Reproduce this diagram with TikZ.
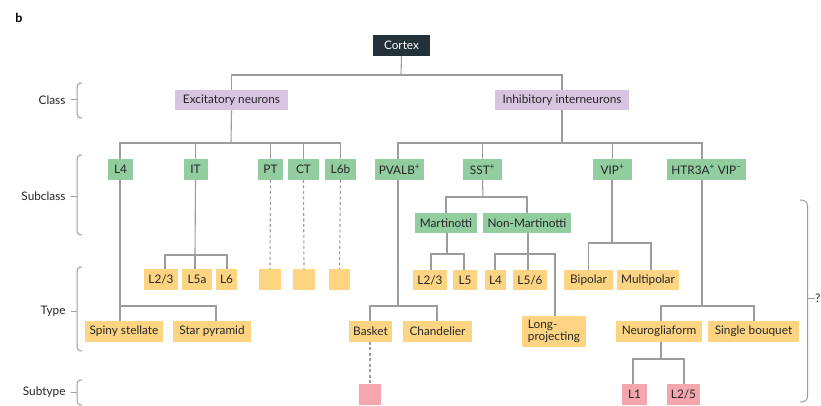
\documentclass[tikz,border=0pt]{standalone}
\usepackage{fontspec}
\setmainfont{Lato}
\definecolor{cdark}{HTML}{23313B}
\definecolor{cpurple}{HTML}{D8C3E1}
\definecolor{cgreen}{HTML}{91CD9F}
\definecolor{cyellow}{HTML}{FDD482}
\definecolor{cpink}{HTML}{F3A7AC}
\definecolor{cline}{HTML}{9C9C9C}
\definecolor{ctext}{HTML}{262626}
\tikzset{
  lbl/.style={font=\fontsize{11.8}{13}\selectfont, text=ctext},
  box/.style={rectangle, minimum height=20.5, inner xsep=4, inner ysep=0, font=\fontsize{11.8}{13}\selectfont, text=ctext},
  darkbox/.style={box, fill=cdark, text=white},
  purplebox/.style={box, fill=cpurple},
  greenbox/.style={box, fill=cgreen},
  yellowbox/.style={box, fill=cyellow},
  pinkbox/.style={box, fill=cpink},
  conn/.style={draw=cline, line width=1.1},
  dconn/.style={draw=cline, line width=1.1, dash pattern=on 3 off 2.5},
  brace/.style={draw=cline, line width=1}
}
\begin{document}
\begin{tikzpicture}[x=1pt,y=-1pt]
\useasboundingbox[fill=white] (0,0) rectangle (821,406);
\node[font=\fontsize{12.5}{14}\selectfont\bfseries, text=black] (b) at (19,18) {b};

% Level 0 and class
\node[darkbox, minimum width=57, minimum height=21] (cortex) at (401.5,45.5) {Cortex};
\node[purplebox, minimum width=113] (exc) at (231.5,100) {Excitatory neurons};
\node[purplebox, minimum width=134] (inh) at (562,100) {Inhibitory interneurons};

% Subclass
\node[greenbox, minimum width=25] (L4) at (120.5,169.5) {L4};
\node[greenbox, minimum width=24] (IT) at (195.5,169.5) {IT};
\node[greenbox, minimum width=25] (PT) at (270.5,169.5) {PT};
\node[greenbox, minimum width=31] (CT) at (303.5,169.5) {CT};
\node[greenbox, minimum width=31] (L6b) at (340.5,169.5) {L6b};
\node[greenbox, minimum width=41] (PV) at (399.5,169.5) {PVALB\textsuperscript{+}};
\node[greenbox, minimum width=39] (SST) at (482.5,169.5) {SST\textsuperscript{+}};
\node[greenbox, minimum width=39] (VIP) at (612.5,169.5) {VIP\textsuperscript{+}};
\node[greenbox, minimum width=79] (HTR) at (706.5,169.5) {HTR3A\textsuperscript{+} VIP\textsuperscript{--}};
\node[greenbox, minimum width=62] (mart) at (446,223) {Martinotti};
\node[greenbox, minimum width=88] (nmart) at (527,223) {Non-Martinotti};

% Type row 1
\node[yellowbox, minimum width=34] (tL23) at (161,279.5) {L2/3};
\node[yellowbox, minimum width=30] (tL5a) at (197,279.5) {L5a};
\node[yellowbox, minimum width=21] (tL6) at (226.5,279.5) {L6};
\node[yellowbox, minimum width=22] (ePT) at (270,279.5) {};
\node[yellowbox, minimum width=22] (eCT) at (304,279.5) {};
\node[yellowbox, minimum width=21] (eL6b) at (339.5,279.5) {};
\node[yellowbox, minimum width=32] (sL23) at (430,280) {L2/3};
\node[yellowbox, minimum width=24] (sL5) at (465,280) {L5};
\node[yellowbox, minimum width=21] (sL4) at (495.5,280) {L4};
\node[yellowbox, minimum width=34] (sL56) at (530,280) {L5/6};
\node[yellowbox, minimum width=49] (bip) at (588.5,280) {Bipolar};
\node[yellowbox, minimum width=58] (mult) at (648,280) {Multipolar};

% Type row 2
\node[yellowbox, minimum width=78] (spiny) at (124,331.5) {Spiny stellate};
\node[yellowbox, minimum width=78] (star) at (212,331.5) {Star pyramid};
\node[yellowbox, minimum width=43] (basket) at (370.5,331.5) {Basket};
\node[yellowbox, minimum width=69] (chand) at (437.5,331.5) {Chandelier};
\node[yellowbox, minimum width=64, minimum height=31, align=left, font=\fontsize{11.8}{12}\selectfont] (long) at (554,331.5) {Long-\\projecting};
\node[yellowbox, minimum width=86] (neuro) at (659,331.5) {Neurogliaform};
\node[yellowbox, minimum width=91] (single) at (753.5,331.5) {Single bouquet};

% Subtype
\node[pinkbox, minimum width=22, minimum height=21] (pbask) at (370,394.5) {};
\node[pinkbox, minimum width=25, minimum height=21] (sL1) at (634.5,394.5) {L1};
\node[pinkbox, minimum width=31, minimum height=21] (sL25) at (683.5,394.5) {L2/5};

% Junction coordinates
\coordinate (j0) at (401,75);
\coordinate (jexc) at (231,143);
\coordinate (jinh) at (562,143);
\coordinate (jit) at (195,255);
\coordinate (jl4) at (120,306);
\coordinate (jsst) at (483,197);
\coordinate (jmart) at (447,254);
\coordinate (jnm) at (528,254);
\coordinate (jvip) at (612,243);
\coordinate (jpv) at (398,306);
\coordinate (jhtr) at (702,306);
\coordinate (jneu) at (661,359);

% Connectors
\draw[conn] (cortex.south) -- (j0);
\draw[conn] (exc.north) -- (exc.north |- j0) -- (inh.north |- j0) -- (inh.north);

\draw[conn] (exc.south) -- (jexc);
\draw[conn] (L4.north -| 120,0) -- (120,0 |- jexc) -- (L6b.north |- jexc) -- (L6b.north);
\draw[conn] (IT.north) -- (IT.north |- jexc);
\draw[conn] (PT.north) -- (PT.north |- jexc);
\draw[conn] (CT.north) -- (CT.north |- jexc);

\draw[conn] (inh.south) -- (jinh);
\draw[conn] (PV.north -| 398,0) -- (398,0 |- jinh) -- (702,0 |- jinh) -- (HTR.north -| 702,0);
\draw[conn] (SST.north) -- (SST.north |- jinh);
\draw[conn] (VIP.north) -- (VIP.north |- jinh);

% IT types
\draw[conn] (IT.south) -- (jit);
\draw[conn] (tL23.north -| 165,0) -- (165,0 |- jit) -- (227,0 |- jit) -- (tL6.north -| 227,0);
\draw[conn] (tL5a.north -| 195,0) -- (jit);

% dashed
\draw[dconn] (PT.south) -- (ePT.north);
\draw[dconn] (CT.south) -- (eCT.north);
\draw[dconn] (L6b.south) -- (eL6b.north);

% L4 types
\draw[conn] (L4.south -| 120,0) -- (jl4);
\draw[conn] (spiny.north -| jl4) -- (jl4) -- (216,0 |- jl4) -- (star.north -| 216,0);

% SST
\draw[conn] (SST.south) -- (jsst);
\draw[conn] (mart.north) -- (mart.north |- jsst) -- (nmart.north |- jsst) -- (nmart.north);
\draw[conn] (mart.south -| jmart) -- (jmart);
\draw[conn] (sL23.north -| 431,0) -- (431,0 |- jmart) -- (464,0 |- jmart) -- (sL5.north -| 464,0);
\draw[conn] (nmart.south -| jnm) -- (jnm);
\draw[conn] (sL4.north -| 495,0) -- (495,0 |- jnm) -- (555,0 |- jnm) -- (long.north -| 555,0);
\draw[conn] (sL56.north -| jnm) -- (jnm);

% VIP
\draw[conn] (VIP.south -| jvip) -- (jvip);
\draw[conn] (bip.north) -- (bip.north |- jvip) -- (651,0 |- jvip) -- (mult.north -| 651,0);

% PVALB
\draw[conn] (PV.south -| jpv) -- (jpv);
\draw[conn] (basket.north -| 370,0) -- (370,0 |- jpv) -- (437,0 |- jpv) -- (chand.north -| 437,0);
\draw[dconn] (basket.south -| 370,0) -- (pbask.north);

% HTR3A
\draw[conn] (HTR.south -| jhtr) -- (jhtr);
\draw[conn] (neuro.north -| jneu) -- (jneu |- jhtr) -- (754,0 |- jhtr) -- (single.north -| 754,0);
\draw[conn] (neuro.south -| jneu) -- (jneu);
\draw[conn] (sL1.north -| 633,0) -- (633,0 |- jneu) -- (684,0 |- jneu) -- (sL25.north -| 684,0);

% Left labels and braces
\node[lbl, anchor=east] (lclass) at (69,100) {Class};
\node[lbl, anchor=east] (lsub) at (69,196) {Subclass};
\node[lbl, anchor=east] (ltype) at (69,311) {Type};
\node[lbl, anchor=east] (lsubt) at (69,392) {Subtype};

\draw[brace] (82,83) .. controls (78.5,83) and (77,84.5) .. (77,88) -- (77,113) .. controls (77,116.5) and (78.5,118) .. (82,118);
\draw[brace] (lclass.east) ++(1.5,0) -- (77,100);
\draw[brace] (82,155) .. controls (78.5,155) and (77,156.5) .. (77,160) -- (77,230) .. controls (77,233.5) and (78.5,235) .. (82,235);
\draw[brace] (lsub.east) ++(1.5,0) -- (77,196);
\draw[brace] (82,267) .. controls (78.5,267) and (77,268.5) .. (77,272) -- (77,346) .. controls (77,349.5) and (78.5,351) .. (82,351);
\draw[brace] (ltype.east) ++(1.5,0) -- (77,311);
\draw[brace] (82,380) .. controls (78.5,380) and (77,381.5) .. (77,385) -- (77,400) .. controls (77,403.5) and (78.5,405) .. (82,405);
\draw[brace] (lsubt.east) ++(1.5,0) -- (77,392);

% Right brace
\draw[brace] (800,200) .. controls (804.5,200) and (807.5,201.5) .. (807.5,206) -- (807.5,396) .. controls (807.5,400.5) and (804.5,402) .. (800,402);
\node[lbl, anchor=west, inner sep=0] (q) at (815,298) {?};
\draw[brace] (807.5,298) -- (q.west);
\end{tikzpicture}
\end{document}
